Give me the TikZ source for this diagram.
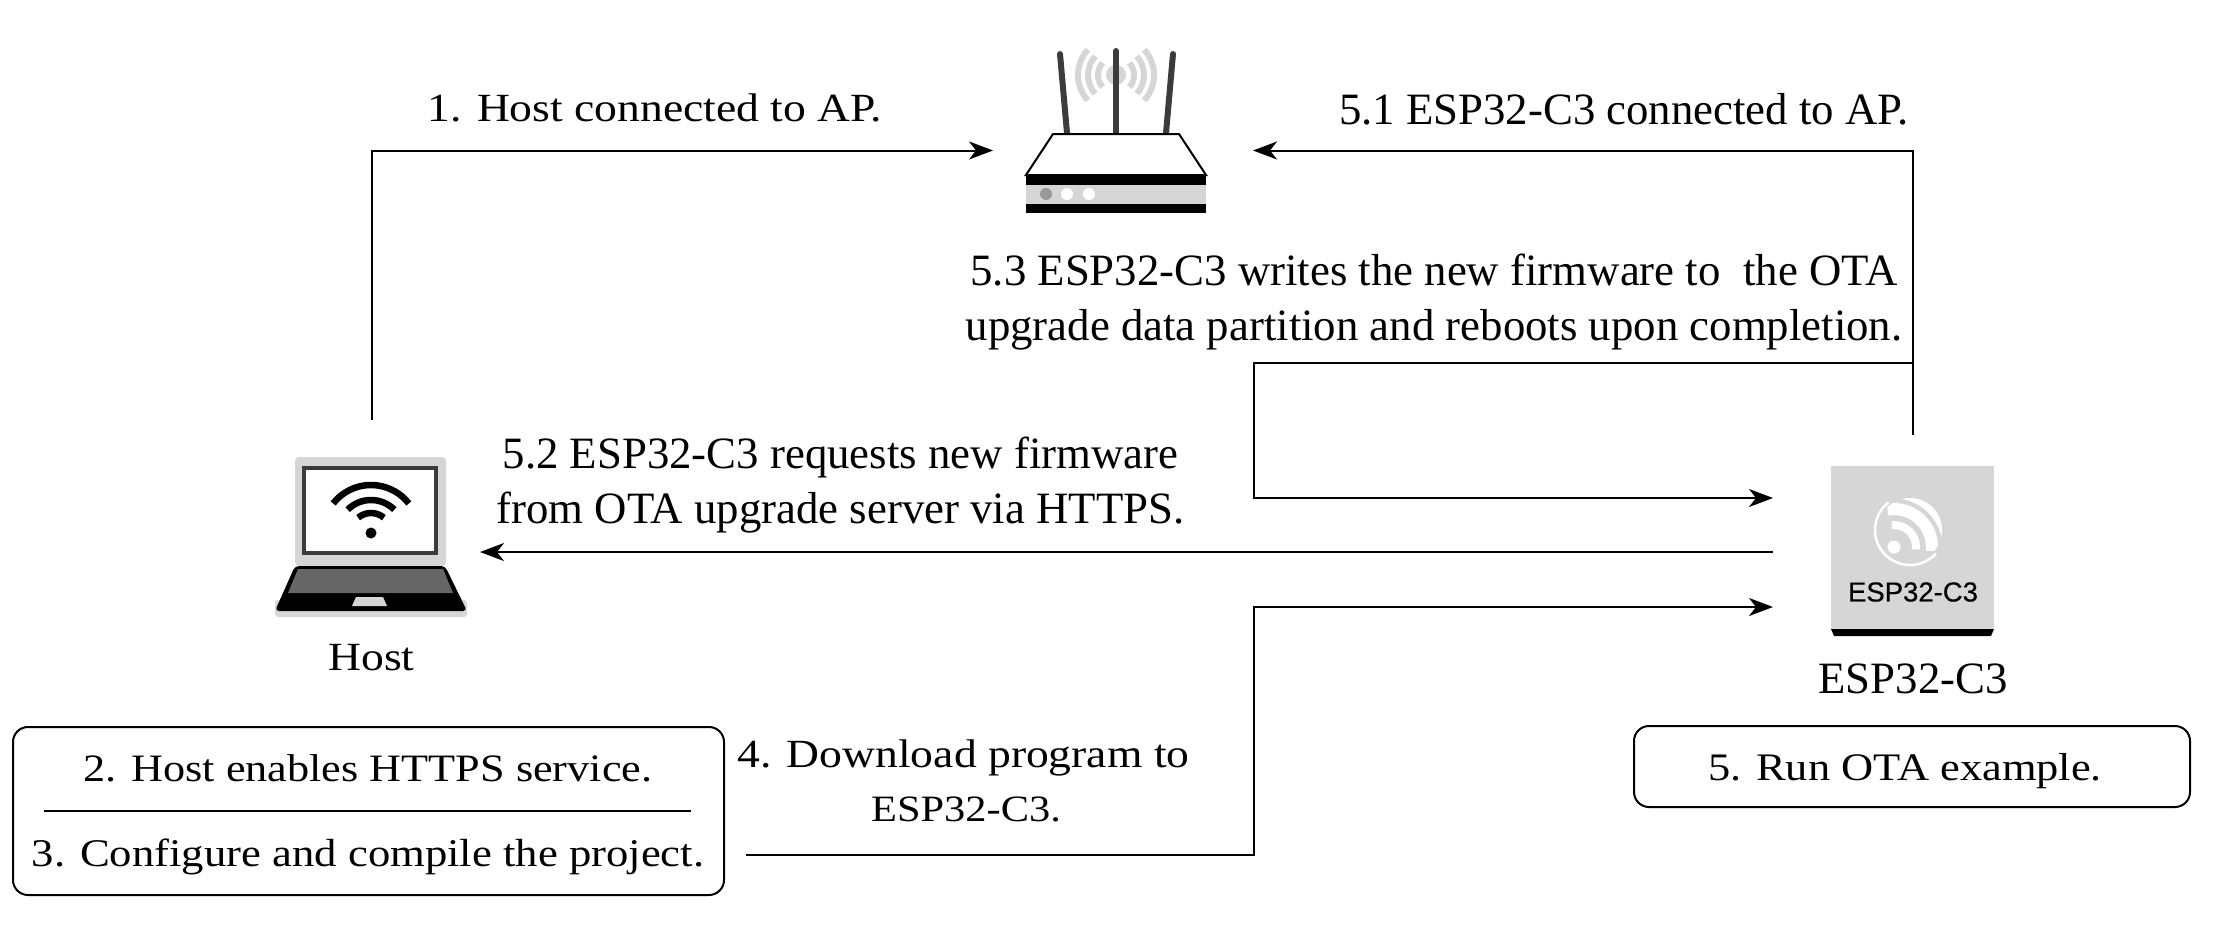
\documentclass[tikz,border=0pt]{standalone}
\usepackage{fontspec}
\setmainfont{Liberation Serif}
\newfontfamily\oldf[FakeStretch=1.14]{Liberation Serif}
\newfontfamily\sansf[FakeBold=0.4]{Liberation Sans}
\usetikzlibrary{arrows.meta}
\definecolor{lg}{HTML}{D6D6D6}
\definecolor{dg}{HTML}{3C3C3C}
\definecolor{mg}{HTML}{666666}
\tikzset{
  conn/.style={line width=2pt,-{Stealth[length=24pt,width=18pt,inset=7pt]}},
  oldtxt/.style={inner sep=0pt,align=center,font=\oldf\fontsize{40}{54}\selectfont},
  timestxt/.style={inner sep=0pt,align=center,font=\fontsize{44.8}{55}\selectfont},
  rbox/.style={draw,line width=2pt,rounded corners=15pt,inner sep=0pt},
  wave/.style={lg,line width=6pt},
  wifi/.style={black,line width=6.5pt},
  ant/.style={dg,line width=6pt,line cap=round},
}
\begin{document}
\begin{tikzpicture}[x=1pt,y=-1pt]
\useasboundingbox (0,0) rectangle (2215,927);
% router
\fill[lg] (1116,75) circle (10);
\foreach \r in {18,28,38}{
  \draw[wave] (1116,75) ++(-42:\r) arc[start angle=-42,end angle=42,radius=\r];
  \draw[wave] (1116,75) ++(138:\r) arc[start angle=138,end angle=222,radius=\r];
}
\draw[ant] (1060,54) -- (1067,133);
\draw[ant] (1116,51) -- (1116,133);
\draw[ant] (1173,54) -- (1166,133);
\draw[line width=2pt,fill=white] (1053,134) -- (1179,134) -- (1206,175) -- (1026,175) -- cycle;
\fill[lg] (1026,175) rectangle (1206,213);
\fill[black] (1026,175) rectangle (1206,185);
\fill[black] (1026,204) rectangle (1206,213);
\fill[black!40] (1046,194) circle (6);
\fill[white] (1067,194) circle (6);
\fill[white] (1089,194) circle (6);
% laptop
\fill[lg,rounded corners=4pt] (295,457) rectangle (446,566);
\draw[dg,line width=3.5pt,fill=white] (304,468) rectangle (436,553);
\draw[wifi] (371,533) ++(-142:48) arc[start angle=-142,end angle=-38,radius=48];
\draw[wifi] (371,533) ++(-135:33) arc[start angle=-135,end angle=-45,radius=33];
\draw[wifi] (371,533) ++(-130:20) arc[start angle=-130,end angle=-50,radius=20];
\fill[black] (371,533) circle (5.5);
\fill[lg,rounded corners=3pt] (275,600) rectangle (467,617);
\fill[black,rounded corners=4pt] (295,566) -- (445,566) -- (467,611) -- (275,611) -- cycle;
\fill[mg] (298,569) -- (443,569) -- (453,593) -- (288,593) -- cycle;
\fill[lg] (356,597) -- (383,597) -- (387,606) -- (352,606) -- cycle;
% chip
\fill[black] (1831,629) -- (1994,629) -- (1991,636) -- (1834,636) -- cycle;
\fill[lg] (1831,466) rectangle (1994,629);
\draw[white,line width=2.5pt] (1910,530) ++(232:35) arc[start angle=232,end angle=42,radius=35];
\begin{scope}
  \clip (1910,530) circle (32);
  \draw[white,line width=8pt] (1894,547) ++(-96:22) arc[start angle=-96,end angle=6,radius=22];
  \draw[white,line width=12pt] (1894,547) ++(-100:38) arc[start angle=-100,end angle=6,radius=38];
  \draw[white,line width=13pt] (1894,547) ++(-100:55) arc[start angle=-100,end angle=10,radius=55];
  \fill[white] (1894,547) circle (6.5);
\end{scope}
\node[font=\sansf\fontsize{27.5}{30}\selectfont,inner sep=0pt] (chiptxt) at (1913,592) {ESP32-C3};
% texts
\node[timestxt] (chiplab) at (1913,679) {ESP32-C3};
\node[oldtxt] (hostlab) at (371.5,658) {Host};
\node[oldtxt] (t1) at (655,108) {1. Host connected to AP.};
\node[timestxt] (t51) at (1624,109) {5.1 ESP32-C3 connected to AP.};
\node[timestxt] (t53) at (1434,302) {5.3 ESP32-C3 writes the new firmware to\ \ the OTA\\upgrade data partition and reboots upon completion.};
\node[timestxt] (t52) at (840.5,485) {5.2 ESP32-C3 requests new firmware\\from OTA upgrade server via HTTPS.};
\node[oldtxt] (t4) at (963.5,781) {4. Download program to\\\hspace*{5pt}\fontsize{37.2}{54}\selectfont ESP32-C3.};
% boxes
\draw[rbox] (13,727) rectangle (724,895);
\draw[line width=2pt] (44,811) -- (691,811);
\node[oldtxt,font=\oldf\fontsize{38.8}{54}\selectfont] (t2) at (368,768) {2. Host enables HTTPS service.};
\node[oldtxt,font=\oldf\fontsize{39.2}{54}\selectfont] (t3) at (368,857) {3. Configure and compile the project.};
\draw[rbox] (1634,726) rectangle (2190,807);
\node[oldtxt,font=\oldf\fontsize{39}{54}\selectfont] (t5) at (1905,771) {5. Run OTA example.};
% connector ends
\coordinate (hostUp) at (371.5,420);
\coordinate (routerL) at (993,150.5);
\coordinate (routerR) at (1253,150.5);
\coordinate (chipUp) at (1913,435);
\coordinate (chipBr) at (1913,363);
\coordinate (k1) at (1254,363);
\coordinate (chipIn1) at (1773,498);
\coordinate (chipOut) at (1773,552);
\coordinate (hostIn) at (480,552);
\coordinate (chipIn2) at (1773,607);
\coordinate (dl) at (746,855);
\draw[conn] (hostUp) |- (routerL);
\draw[conn] (chipUp) |- (routerR);
\draw[conn] (chipBr) -- (k1) |- (chipIn1);
\draw[conn] (chipOut) -- (hostIn);
\draw[conn] (dl) -| (1254,607) -- (chipIn2);
\end{tikzpicture}
\end{document}
